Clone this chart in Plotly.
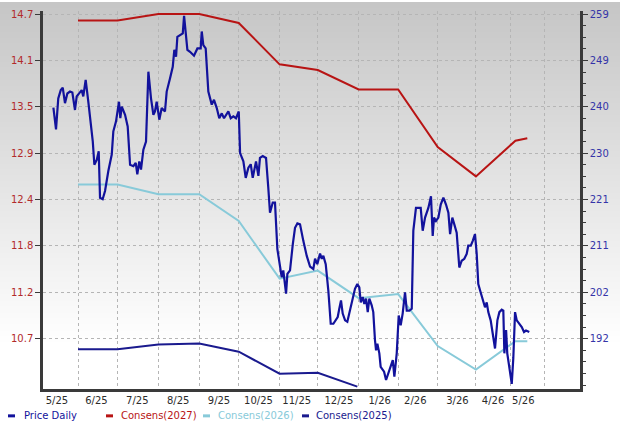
import pandas as pd
import plotly.graph_objects as go

# consensus estimates (left axis), monthly points -------------------------------
cons_dates = ['2025-06-01', '2025-07-01', '2025-08-01', '2025-09-01', '2025-10-01',
              '2025-11-01', '2025-11-30', '2025-12-31', '2026-01-30', '2026-03-01',
              '2026-03-30', '2026-04-29', '2026-05-08']
cons_2027 = [14.62, 14.62, 14.70, 14.70, 14.59, 14.08, 14.01, 13.77, 13.77, 13.06,
             12.70, 13.14, 13.17]
cons_2026 = [12.60, 12.60, 12.48, 12.48, 12.15, 11.44, 11.54, 11.20, 11.25, 10.61,
             10.32, 10.67, 10.67]
cons_2025_dates = ['2025-06-01', '2025-07-01', '2025-08-01', '2025-09-01', '2025-10-01',
                   '2025-11-01', '2025-11-30', '2025-12-30']
cons_2025 = [10.57, 10.57, 10.63, 10.64, 10.54, 10.27, 10.28, 10.11]

# daily price (right axis), day = days after 2025-05-01 -------------------------
price_day = [12.3, 14.3, 16.0, 17.9, 19.4, 21.1, 22.9, 24.9, 26.7, 27.4,
             28.7, 30.0, 32.0, 33.8, 35.0, 36.8, 38.8, 40.6, 42.2, 43.4,
             45.2, 46.7, 47.7, 49.7, 51.5, 54.0, 56.6, 57.8, 59.8, 62.1,
             63.1, 64.2, 66.7, 68.7, 70.5, 73.0, 74.8, 76.0, 77.5, 78.8,
             80.6, 82.6, 84.4, 86.4, 88.2, 89.4, 90.7, 92.7, 94.5, 97.0,
             98.3, 100.8, 102.9, 104.1, 105.4, 106.4, 108.4, 110.5, 111.5, 113.0,
             114.0, 116.0, 119.0, 121.6, 124.1, 124.9, 126.1, 127.9, 129.9, 132.5,
             134.2, 136.3, 138.2, 140.1, 141.8, 145.1, 146.9, 148.9, 150.9, 153.0,
             154.0, 156.5, 158.3, 160.3, 162.1, 163.6, 166.1, 167.9, 169.1, 171.2,
             173.7, 175.4, 176.7, 178.8, 180.5, 182.3, 184.3, 185.6, 186.8, 188.9,
             189.9, 191.9, 194.0, 195.7, 197.5, 199.5, 202.0, 204.6, 207.1, 209.6,
             210.9, 212.6, 214.7, 216.0, 217.2, 219.0, 221.0, 222.8, 224.8, 226.8,
             228.1, 229.3, 230.6, 231.9, 233.7, 235.4, 237.5, 239.5, 241.2, 243.0,
             244.5, 245.6, 247.1, 248.3, 249.6, 250.9, 252.1, 253.9, 255.1, 256.4,
             257.2, 258.2, 259.7, 260.7, 262.3, 263.3, 264.8, 266.5, 268.3, 269.9,
             271.1, 272.9, 274.4, 275.9, 277.4, 279.2, 280.5, 282.5, 284.3, 285.5,
             287.5, 291.1, 292.6, 294.4, 296.9, 298.9, 300.2, 301.2, 302.7, 304.5,
             306.3, 308.3, 310.3, 312.1, 313.4, 315.1, 316.6, 318.4, 320.4, 322.2,
             324.2, 326.0, 327.2, 329.1, 330.6, 332.3, 333.6, 334.8, 336.9, 338.6,
             339.9, 341.2, 342.4, 344.2, 345.8, 347.5, 349.3, 350.8, 352.6, 353.8,
             354.6, 355.9, 356.8, 358.4, 360.2, 361.4, 362.7, 364.0, 366.0, 367.8,
             369.5, 371.0, 373.5]
price = [239.7, 235.2, 241.6, 243.3, 243.8, 240.6, 242.6, 243.0, 242.8, 241.1,
         239.2, 242.0, 242.6, 243.3, 242.0, 245.4, 240.9, 236.8, 232.7, 227.9,
         228.9, 230.7, 221.1, 220.8, 222.5, 226.6, 230.0, 234.8, 236.8, 240.9,
         237.5, 239.9, 238.2, 235.8, 227.9, 227.6, 228.3, 225.9, 228.6, 226.9,
         231.0, 232.7, 247.1, 241.6, 238.2, 238.9, 240.9, 237.2, 239.6, 238.9,
         243.0, 245.7, 248.1, 251.6, 250.2, 254.3, 254.6, 255.0, 258.6, 254.6,
         251.6, 251.2, 250.4, 251.9, 251.9, 255.4, 252.6, 251.9, 243.0, 240.3,
         241.3, 239.6, 237.5, 238.5, 237.5, 238.9, 237.5, 237.9, 237.5, 238.9,
         230.3, 228.6, 225.2, 227.3, 228.0, 225.2, 228.6, 225.6, 229.3, 229.7,
         229.3, 223.2, 218.0, 220.1, 220.1, 210.5, 207.4, 204.7, 206.1, 201.3,
         205.4, 206.1, 211.5, 214.9, 215.8, 215.6, 212.2, 209.1, 206.9, 206.4,
         208.5, 207.4, 209.6, 208.5, 209.1, 207.4, 201.9, 195.1, 195.1, 195.8,
         196.5, 198.2, 199.9, 197.2, 195.8, 195.5, 198.2, 200.6, 202.3, 203.3,
         202.6, 199.5, 200.6, 199.2, 200.3, 197.5, 200.3, 198.9, 197.5, 191.7,
         189.6, 191.0, 189.0, 186.2, 185.5, 185.2, 183.5, 184.9, 186.2, 187.6,
         184.2, 189.0, 196.8, 194.8, 197.2, 201.6, 197.8, 197.8, 198.2, 214.3,
         219.0, 219.0, 214.3, 217.0, 219.0, 221.4, 213.2, 217.0, 216.3, 217.0,
         219.7, 221.1, 219.7, 218.0, 213.6, 217.0, 215.6, 213.9, 206.7, 208.1,
         208.5, 209.5, 211.2, 211.2, 212.2, 213.6, 209.5, 203.3, 201.3, 199.9,
         198.5, 199.5, 197.5, 195.8, 193.1, 190.0, 195.8, 197.5, 198.0, 197.8,
         189.0, 193.8, 189.0, 186.2, 182.7, 188.1, 197.5, 195.8, 195.1, 194.4,
         193.4, 193.7, 193.4]

# axis ticks ----------------------------------------------------------------
eps_labels = ['10.7', '11.2', '11.8', '12.4', '12.9', '13.5', '14.1', '14.7']
price_labels = ['192', '202', '211', '221', '230', '240', '249', '259']
month_labels = ['5/25', '6/25', '7/25', '8/25', '9/25', '10/25', '11/25', '12/25',
                '1/26', '2/26', '3/26', '4/26', '5/26']
month_label_dates = ['2025-05-16', '2025-06-15', '2025-07-16', '2025-08-16', '2025-09-16',
                     '2025-10-16', '2025-11-14', '2025-12-16', '2026-01-16', '2026-02-12',
                     '2026-03-16', '2026-04-12', '2026-05-05']
grid_dates = ['2025-06-01', '2025-07-01', '2025-08-01', '2025-09-01', '2025-10-01',
              '2025-11-01', '2025-11-30', '2025-12-31', '2026-01-30', '2026-03-01',
              '2026-03-30', '2026-04-25', '2026-05-21']

price_dates = pd.Timestamp('2025-05-01') + pd.to_timedelta(price_day, unit='D')

eps_step = (14.7 - 10.7) / 7
px_step = (259 - 192) / 7
eps_ticks = [10.7 + i * eps_step for i in range(8)]
price_ticks = [192 + i * px_step for i in range(8)]

# colours
C_PRICE = '#12129c'
C_2027 = '#b81414'
C_2026 = '#88cad9'
C_2025 = '#1a1a8e'
FONT = 'DejaVu Sans'

# plot area in pixels (620x428 page)
L, R, T, B = 43, 580, 9, 389


def pxx(x):
    return (x - L) / (R - L)


def pxy(y):
    return (B - y) / (B - T)


fig = go.Figure()
fig.add_trace(go.Scatter(x=cons_dates, y=cons_2027, mode='lines', name='Consens(2027)',
                         line=dict(color=C_2027, width=2)))
fig.add_trace(go.Scatter(x=cons_dates, y=cons_2026, mode='lines', name='Consens(2026)',
                         line=dict(color=C_2026, width=2)))
fig.add_trace(go.Scatter(x=cons_2025_dates, y=cons_2025, mode='lines', name='Consens(2025)',
                         line=dict(color=C_2025, width=2)))
fig.add_trace(go.Scatter(x=price_dates, y=price, mode='lines', name='Price Daily',
                         line=dict(color=C_PRICE, width=2.2), yaxis='y2'))

# grey-to-white background fade (bands overlap a pixel so no seams show)
shapes = []
for y in range(0, 428, 6):
    v = int(198 + 57 * min(1.0, y / 340))
    shapes.append(dict(type='rect', xref='paper', yref='paper', layer='below',
                       x0=pxx(0), x1=pxx(620), y0=pxy(y + 7), y1=pxy(y),
                       fillcolor='rgb(%d,%d,%d)' % (v, v, v), line=dict(width=0)))

# legend along the bottom
legend_items = [('Price Daily', C_PRICE, 8, 22), ('Consens(2027)', C_2027, 106, 119),
                ('Consens(2026)', C_2026, 203, 216), ('Consens(2025)', C_2025, 302, 314)]
annotations = []
for text, col, dx, tx in legend_items:
    shapes.append(dict(type='line', xref='paper', yref='paper', x0=pxx(dx), x1=pxx(dx + 7),
                       y0=pxy(416), y1=pxy(416), line=dict(color=col, width=3)))
    annotations.append(dict(text=text, xref='paper', yref='paper', x=pxx(tx), y=pxy(416),
                            xanchor='left', yanchor='middle', showarrow=False,
                            font=dict(family=FONT, size=10, color=col)))

fig.update_layout(
    width=620, height=428,
    margin=dict(l=L, r=620 - R, t=T, b=428 - B),
    paper_bgcolor='white', plot_bgcolor='rgba(0,0,0,0)',
    showlegend=False, hovermode=False,
    shapes=shapes, annotations=annotations,
    font=dict(family=FONT, size=10),
    xaxis=dict(type='date', range=['2025-05-05 10:00', '2026-06-17'],
               tickmode='array', tickvals=month_label_dates, ticktext=month_labels,
               showgrid=False, ticks='', showline=True, linecolor='#3a3a3a', linewidth=2.5,
               tickfont=dict(color='#2b2b2b', size=10), zeroline=False,
               minor=dict(tickmode='array', tickvals=grid_dates, showgrid=True,
                          gridcolor='#b5b5b5', griddash='dot', gridwidth=1, ticks='')),
    yaxis=dict(range=[10.081, 14.737], tickmode='array', tickvals=eps_ticks,
               ticktext=eps_labels, showgrid=True, gridcolor='#b5b5b5', griddash='dot',
               gridwidth=1, ticks='outside', ticklen=5, tickcolor='#3a3a3a', tickwidth=1,
               showline=True, linecolor='#3a3a3a', linewidth=2.5, zeroline=False,
               tickfont=dict(color='#b22a2a', size=10)),
    yaxis2=dict(range=[181.64, 259.62], overlaying='y', side='right', tickmode='array',
                tickvals=price_ticks, ticktext=price_labels, showgrid=False,
                ticks='outside', ticklen=5, tickcolor='#3a3a3a', tickwidth=1,
                showline=True, linecolor='#3a3a3a', linewidth=2.5, zeroline=False,
                tickfont=dict(color='#3434a8', size=10),
                minor=dict(tickmode='linear', tick0=192, dtick=px_step / 4,
                           ticks='outside', ticklen=3, tickcolor='#3a3a3a', showgrid=False)),
)

# the page's default 8px body margin would push the chart off the window
fig.write_html("out.html", config={'displayModeBar': False},
               post_script="document.body.style.margin='0';")
